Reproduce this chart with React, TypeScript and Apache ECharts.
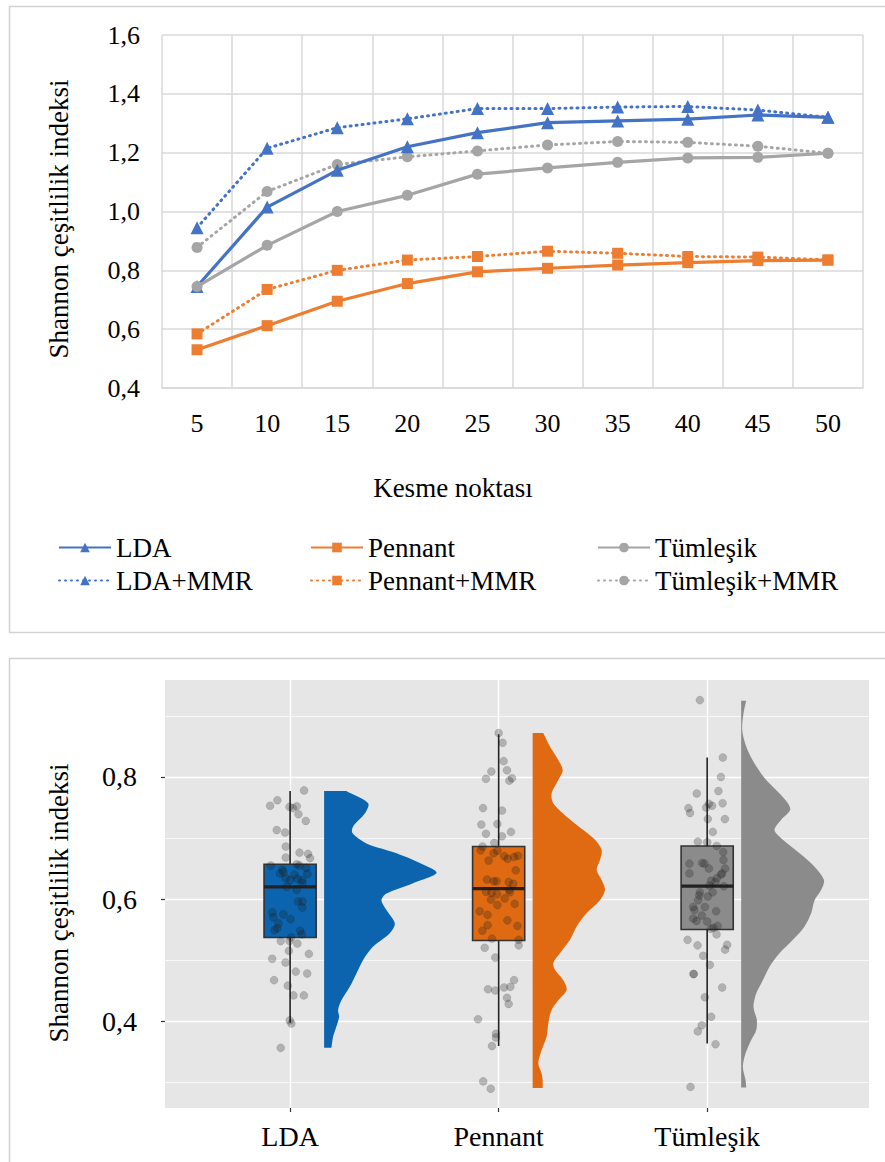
import React, { useEffect, useRef } from "react";
import * as echarts from "echarts";

// ---------- Top chart data ----------
const cutPoints = ["5", "10", "15", "20", "25", "30", "35", "40", "45", "50"];
const ldaValues = [0.745, 1.015, 1.14, 1.22, 1.268, 1.302, 1.308, 1.314, 1.328, 1.32];
const ldaMmrValues = [0.945, 1.215, 1.285, 1.315, 1.35, 1.35, 1.355, 1.357, 1.345, 1.32];
const pennantValues = [0.53, 0.612, 0.695, 0.755, 0.795, 0.807, 0.818, 0.826, 0.833, 0.835];
const pennantMmrValues = [0.584, 0.735, 0.8, 0.835, 0.847, 0.865, 0.858, 0.847, 0.845, 0.835];
const tumValues = [0.745, 0.885, 1.0, 1.055, 1.127, 1.148, 1.167, 1.182, 1.184, 1.198];
const tumMmrValues = [0.878, 1.068, 1.16, 1.186, 1.206, 1.226, 1.238, 1.235, 1.222, 1.198];

// ---------- Bottom chart data ----------
const groups = ["LDA", "Pennant", "Tümleşik"];
const groupColors = ["#0B64AD", "#DF6A12", "#8B8B8B"];
// [min whisker, q1, median, q3, max whisker]
const ldaBox = [0.397, 0.537, 0.62, 0.657, 0.777];
const pennantBox = [0.359, 0.532, 0.617, 0.686, 0.87];
const tumBox = [0.363, 0.55, 0.621, 0.687, 0.832];

// violin half-profiles: [value, width (x-axis units)]
const ldaViolin = [
  [0.777, 0.106], [0.757, 0.211], [0.74, 0.195], [0.719, 0.139], [0.708, 0.136],
  [0.691, 0.203], [0.675, 0.347], [0.659, 0.459], [0.643, 0.539], [0.626, 0.427],
  [0.609, 0.299], [0.598, 0.275], [0.582, 0.299], [0.56, 0.339], [0.544, 0.315],
  [0.522, 0.235], [0.5, 0.187], [0.478, 0.155], [0.456, 0.123], [0.434, 0.083],
  [0.418, 0.067], [0.407, 0.072], [0.391, 0.059], [0.374, 0.043], [0.356, 0.035],
];
const pennantViolin = [
  [0.872, 0.051], [0.85, 0.083], [0.828, 0.123], [0.811, 0.144], [0.795, 0.123],
  [0.773, 0.091], [0.757, 0.099], [0.735, 0.163], [0.713, 0.243], [0.697, 0.299],
  [0.68, 0.331], [0.664, 0.323], [0.648, 0.307], [0.631, 0.331], [0.615, 0.347],
  [0.598, 0.323], [0.577, 0.259], [0.555, 0.211], [0.533, 0.179], [0.511, 0.131],
  [0.495, 0.099], [0.484, 0.107], [0.467, 0.147], [0.451, 0.163], [0.434, 0.123],
  [0.418, 0.091], [0.396, 0.075], [0.374, 0.067], [0.352, 0.043], [0.331, 0.027],
  [0.314, 0.043], [0.303, 0.048], [0.29, 0.048],
];
const tumViolin = [
  [0.925, 0.024], [0.904, 0.011], [0.877, 0.005], [0.85, 0.024], [0.822, 0.064],
  [0.795, 0.12], [0.773, 0.184], [0.757, 0.224], [0.746, 0.235], [0.73, 0.192],
  [0.713, 0.16], [0.697, 0.2], [0.675, 0.28], [0.653, 0.352], [0.631, 0.397],
  [0.615, 0.384], [0.598, 0.352], [0.577, 0.336], [0.555, 0.304], [0.533, 0.248],
  [0.511, 0.184], [0.489, 0.136], [0.467, 0.104], [0.445, 0.072], [0.423, 0.059],
  [0.402, 0.075], [0.385, 0.072], [0.369, 0.048], [0.347, 0.021], [0.325, 0.008],
  [0.303, 0.021], [0.291, 0.024],
];

// jittered observations: [horizontal jitter (x units), value]
const ldaPoints = [
  [0.067, 0.778], [-0.061, 0.762], [-0.096, 0.753], [-0.003, 0.751], [0.013, 0.749],
  [0.032, 0.752], [0.04, 0.739], [0.075, 0.728], [-0.064, 0.713], [-0.024, 0.709],
  [-0.021, 0.686], [-0.021, 0.668], [0.045, 0.676], [0.086, 0.674], [0.096, 0.667],
  [-0.093, 0.655], [0.032, 0.657], [0.045, 0.655], [0.077, 0.651], [-0.037, 0.648],
  [-0.048, 0.642], [-0.032, 0.644], [0.021, 0.64], [0.083, 0.641], [-0.021, 0.634],
  [0.0, 0.631], [0.035, 0.633], [0.058, 0.631], [0.059, 0.626], [-0.016, 0.62],
  [0.032, 0.615], [0.038, 0.596], [0.059, 0.596], [0.058, 0.586], [-0.085, 0.578],
  [-0.08, 0.57], [-0.032, 0.575], [0.002, 0.567], [-0.056, 0.56], [-0.061, 0.552],
  [-0.075, 0.549], [0.048, 0.548], [0.056, 0.542], [0.005, 0.537], [-0.045, 0.531],
  [-0.003, 0.531], [0.035, 0.527], [-0.006, 0.515], [0.09, 0.51], [-0.086, 0.502],
  [-0.022, 0.496], [0.027, 0.481], [0.082, 0.478], [-0.077, 0.467], [-0.011, 0.458],
  [0.016, 0.442], [0.066, 0.442], [-0.002, 0.401], [0.006, 0.396], [-0.045, 0.356],
];
const pennantPoints = [
  [0.0, 0.872], [0.019, 0.856], [0.024, 0.826], [-0.035, 0.809], [0.04, 0.811],
  [-0.061, 0.797], [0.064, 0.798], [0.051, 0.794], [-0.075, 0.749], [0.016, 0.745],
  [-0.083, 0.722], [-0.006, 0.723], [-0.061, 0.707], [0.016, 0.703], [0.059, 0.71],
  [-0.021, 0.692], [-0.077, 0.686], [-0.086, 0.68], [-0.024, 0.675], [-0.006, 0.679],
  [0.027, 0.67], [0.043, 0.666], [0.074, 0.669], [0.093, 0.671], [-0.048, 0.663],
  [0.082, 0.647], [-0.056, 0.632], [-0.024, 0.629], [-0.01, 0.629], [0.048, 0.628],
  [0.07, 0.625], [-0.061, 0.612], [-0.034, 0.61], [-0.008, 0.608], [0.051, 0.615],
  [0.054, 0.611], [-0.037, 0.599], [0.029, 0.601], [-0.006, 0.59], [0.077, 0.592],
  [-0.091, 0.58], [-0.053, 0.574], [0.042, 0.565], [-0.053, 0.557], [0.09, 0.556],
  [-0.078, 0.548], [-0.032, 0.535], [0.096, 0.533], [0.096, 0.524], [-0.067, 0.52],
  [-0.016, 0.504], [0.074, 0.467], [-0.051, 0.452], [-0.016, 0.45], [0.026, 0.455],
  [0.056, 0.456], [0.04, 0.438], [0.048, 0.428], [-0.099, 0.403], [-0.013, 0.379],
  [-0.013, 0.373], [-0.032, 0.359], [-0.074, 0.301], [-0.038, 0.289],
];
const tumPoints = [
  [-0.035, 0.926], [0.075, 0.832], [0.066, 0.8], [0.054, 0.777], [-0.05, 0.773],
  [0.074, 0.757], [0.008, 0.756], [0.024, 0.753], [-0.005, 0.75], [-0.09, 0.749],
  [-0.082, 0.741], [0.003, 0.731], [0.085, 0.731], [0.027, 0.71], [-0.045, 0.694],
  [0.0, 0.693], [0.046, 0.687], [0.077, 0.677], [0.078, 0.664], [-0.085, 0.658],
  [-0.024, 0.659], [-0.013, 0.658], [0.008, 0.65], [0.086, 0.65], [-0.085, 0.642],
  [0.072, 0.642], [0.066, 0.64], [0.046, 0.634], [0.019, 0.63], [0.04, 0.628],
  [0.011, 0.622], [0.08, 0.621], [0.026, 0.611], [-0.035, 0.611], [-0.038, 0.606],
  [0.003, 0.604], [-0.043, 0.598], [-0.067, 0.587], [-0.011, 0.587], [-0.061, 0.582],
  [0.043, 0.58], [-0.026, 0.573], [-0.067, 0.568], [-0.051, 0.564], [0.0, 0.563],
  [0.05, 0.556], [0.03, 0.553], [0.018, 0.551], [0.045, 0.542], [-0.094, 0.533],
  [-0.046, 0.524], [0.096, 0.525], [0.086, 0.517], [-0.019, 0.507], [0.013, 0.492],
  [-0.064, 0.477], [-0.066, 0.477], [0.072, 0.455], [-0.011, 0.439], [0.019, 0.407],
  [-0.026, 0.393], [-0.045, 0.383], [0.04, 0.362], [-0.08, 0.292],
];
const bottomTicks = [0.4, 0.6, 0.8];
const bottomMinorLines = [0.3, 0.5, 0.7, 0.9];

const SERIF = "Liberation Serif";
const BLUE = "#4472C4";
const ORANGE = "#ED7D31";
const GRAY = "#A5A5A5";
const DOT = [1, 5];
const BOX_HALF = 0.125;
const VIOLIN_OFFSET = 0.163;

const fmt = (v: number) => v.toFixed(1).replace(".", ",");

export default function App() {
  const ref = useRef<HTMLDivElement>(null);
  useEffect(() => {
    document.body.style.margin = "0";
    const chart = echarts.init(ref.current!, null, { renderer: "svg" });
    const boxes = [ldaBox, pennantBox, tumBox];
    const violins = [ldaViolin, pennantViolin, tumViolin];
    const pointSets = [ldaPoints, pennantPoints, tumPoints];

    const lineSeries = (name: string, data: number[], color: string, symbol: string, size: number, dotted: boolean) => ({
      name,
      type: "line",
      xAxisIndex: 0,
      yAxisIndex: 0,
      data,
      symbol,
      symbolSize: size,
      itemStyle: { color, borderWidth: 0 },
      lineStyle: dotted
        ? { color, width: 3, type: DOT, cap: "round" }
        : { color, width: 3.2 },
      z: dotted ? 3 : 4,
    });

    const legendBase = {
      orient: "vertical",
      selectedMode: false,
      itemWidth: 52,
      itemHeight: 12,
      itemGap: 6,
      top: 529,
      textStyle: { fontFamily: SERIF, fontSize: 27, color: "#000" },
    };

    const option: any = {
      animation: false,
      backgroundColor: "#fff",
      textStyle: { fontFamily: SERIF },
      graphic: {
        elements: [
          { type: "rect", shape: { x: 9.5, y: 6.5, width: 900, height: 626 }, style: { fill: "none", stroke: "#d2d2d2", lineWidth: 1.5 }, z: -1 },
          { type: "rect", shape: { x: 9.5, y: 658.5, width: 900, height: 520 }, style: { fill: "none", stroke: "#d2d2d2", lineWidth: 1.5 }, z: -1 },
          { type: "text", x: 59, y: 219, rotation: Math.PI / 2, style: { text: "Shannon çeşitlilik indeksi", fontFamily: SERIF, fontSize: 27, fill: "#000", align: "center", verticalAlign: "middle" } },
          { type: "text", x: 453, y: 488, style: { text: "Kesme noktası", fontFamily: SERIF, fontSize: 27, fill: "#000", align: "center", verticalAlign: "middle" } },
          { type: "text", x: 59, y: 903, rotation: Math.PI / 2, style: { text: "Shannon çeşitlilik indeksi", fontFamily: SERIF, fontSize: 27, fill: "#000", align: "center", verticalAlign: "middle" } },
        ],
      },
      legend: [
        { ...legendBase, left: 53, data: ["LDA", "LDA+MMR"] },
        { ...legendBase, left: 305, data: ["Pennant", "Pennant+MMR"] },
        { ...legendBase, left: 592, data: ["Tümleşik", "Tümleşik+MMR"] },
      ],
      grid: [
        { left: 162, top: 35, width: 701, height: 353 },
        { left: 165, top: 680, width: 704, height: 428, show: true, backgroundColor: "#E6E6E6", borderWidth: 0 },
      ],
      xAxis: [
        {
          gridIndex: 0,
          type: "category",
          data: cutPoints,
          boundaryGap: true,
          axisLine: { lineStyle: { color: "#d9d9d9", width: 1.5 } },
          axisTick: { show: false },
          splitLine: { show: true, lineStyle: { color: "#d9d9d9", width: 1.5 } },
          axisLabel: { interval: 0, margin: 22, fontFamily: SERIF, fontSize: 26, color: "#000" },
        },
        {
          gridIndex: 1,
          type: "value",
          min: 0.4,
          max: 3.776,
          axisLine: { show: false },
          splitLine: { show: false },
          axisTick: { show: true, customValues: [1, 2, 3], length: 4, lineStyle: { color: "#333", width: 1.2 } },
          axisLabel: {
            customValues: [1, 2, 3],
            margin: 14,
            fontFamily: SERIF,
            fontSize: 28,
            color: "#000",
            formatter: (v: number) => groups[Math.round(v) - 1] ?? "",
          },
        },
      ],
      yAxis: [
        {
          gridIndex: 0,
          type: "value",
          min: 0.4,
          max: 1.6,
          interval: 0.2,
          axisLine: { show: false },
          axisTick: { show: false },
          splitLine: { lineStyle: { color: "#d9d9d9", width: 1.5 } },
          axisLabel: { margin: 22, fontFamily: SERIF, fontSize: 26, color: "#000", formatter: fmt },
        },
        {
          gridIndex: 1,
          type: "value",
          min: 0.2574,
          max: 0.959,
          axisLine: { show: false },
          splitLine: { show: false },
          axisTick: { show: true, customValues: bottomTicks, length: 4, lineStyle: { color: "#333", width: 1.2 } },
          axisLabel: { customValues: bottomTicks, margin: 28, fontFamily: SERIF, fontSize: 28, color: "#000", formatter: fmt },
        },
      ],
      series: [
        lineSeries("LDA", ldaValues, BLUE, "triangle", 13, false),
        lineSeries("LDA+MMR", ldaMmrValues, BLUE, "triangle", 13, true),
        lineSeries("Pennant", pennantValues, ORANGE, "rect", 11, false),
        lineSeries("Pennant+MMR", pennantMmrValues, ORANGE, "rect", 11, true),
        lineSeries("Tümleşik", tumValues, GRAY, "circle", 11, false),
        lineSeries("Tümleşik+MMR", tumMmrValues, GRAY, "circle", 11, true),
        {
          type: "scatter",
          xAxisIndex: 1,
          yAxisIndex: 1,
          data: [],
          silent: true,
          markLine: {
            silent: true,
            z: 1,
            symbol: ["none", "none"],
            label: { show: false },
            data: [
              ...bottomMinorLines.map((v) => ({ yAxis: v, lineStyle: { color: "#fff", width: 0.7, type: "solid" } })),
              ...bottomTicks.map((v) => ({ yAxis: v, lineStyle: { color: "#fff", width: 1.4, type: "solid" } })),
              ...groups.map((_, i) => ({ xAxis: i + 1, lineStyle: { color: "#fff", width: 1.4, type: "solid" } })),
            ],
          },
        },
        {
          type: "custom",
          xAxisIndex: 1,
          yAxisIndex: 1,
          z: 2,
          silent: true,
          data: boxes.map((b, i) => [i + 1, b[2]]),
          renderItem: (params: any, api: any) => {
            const gi = params.dataIndex;
            const prof = violins[gi];
            const cx = api.value(0) + VIOLIN_OFFSET;
            const pts: number[][] = [];
            const top = prof[0][0];
            const bot = prof[prof.length - 1][0];
            const a = api.coord([cx, top]);
            pts.push(a, a.slice());
            prof.forEach(([v, w], k) => {
              const p = api.coord([cx + w, v]);
              pts.push(p);
              if (k === 0 || k === prof.length - 1) pts.push(p.slice());
            });
            const b = api.coord([cx, bot]);
            pts.push(b, b.slice());
            return {
              type: "polygon",
              shape: { points: pts, smooth: 0.3 },
              style: { fill: groupColors[gi], stroke: "none" },
            };
          },
        },
        {
          type: "custom",
          xAxisIndex: 1,
          yAxisIndex: 1,
          z: 3,
          silent: true,
          data: boxes.map((b, i) => [i + 1, ...b]),
          renderItem: (params: any, api: any) => {
            const gi = params.dataIndex;
            const x = api.value(0);
            const mn = api.value(1), q1 = api.value(2), md = api.value(3), q3 = api.value(4), mx = api.value(5);
            const pMax = api.coord([x, mx]);
            const pQ3 = api.coord([x, q3]);
            const pQ1 = api.coord([x, q1]);
            const pMin = api.coord([x, mn]);
            const tl = api.coord([x - BOX_HALF, q3]);
            const br = api.coord([x + BOX_HALF, q1]);
            const ml = api.coord([x - BOX_HALF, md]);
            const mr = api.coord([x + BOX_HALF, md]);
            const ws = { stroke: "#222", lineWidth: 1.6 };
            return {
              type: "group",
              children: [
                { type: "line", shape: { x1: pMax[0], y1: pMax[1], x2: pQ3[0], y2: pQ3[1] }, style: ws },
                { type: "line", shape: { x1: pQ1[0], y1: pQ1[1], x2: pMin[0], y2: pMin[1] }, style: ws },
                {
                  type: "rect",
                  shape: { x: tl[0], y: tl[1], width: br[0] - tl[0], height: br[1] - tl[1] },
                  style: { fill: groupColors[gi], stroke: "#333", lineWidth: 1.6 },
                },
                { type: "line", shape: { x1: ml[0], y1: ml[1], x2: mr[0], y2: mr[1] }, style: { stroke: "#222", lineWidth: 3.2 } },
              ],
            };
          },
        },
        {
          type: "scatter",
          xAxisIndex: 1,
          yAxisIndex: 1,
          z: 4,
          silent: true,
          symbol: "circle",
          symbolSize: 8,
          itemStyle: { color: "rgba(30,30,30,0.33)", borderColor: "rgba(0,0,0,0.2)", borderWidth: 0.6 },
          data: pointSets.flatMap((pts, i) => pts.map(([dx, v]) => [i + 1 + dx, v])),
        },
      ],
    };
    chart.setOption(option);
    return () => chart.dispose();
  }, []);
  return <div ref={ref} style={{ width: 885, height: 1162 }} />;
}
